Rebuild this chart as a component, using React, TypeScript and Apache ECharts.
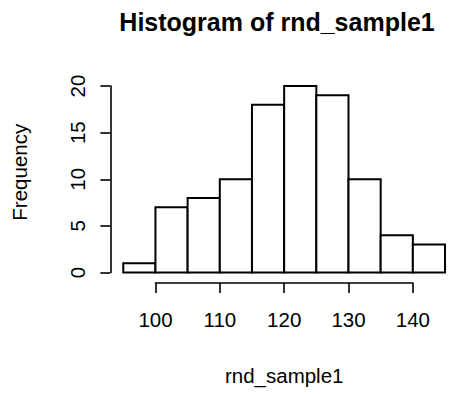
import React, { useEffect, useRef } from "react";
import * as echarts from "echarts";

const title = "Histogram of rnd_sample1";
const xLabel = "rnd_sample1";
const yLabel = "Frequency";
const binEdges = [95, 100, 105, 110, 115, 120, 125, 130, 135, 140, 145];
const counts = [1, 7, 8, 10, 18, 20, 19, 10, 4, 3];
const xTicks = [100, 110, 120, 130, 140];
const yTicks = [0, 5, 10, 15, 20];

const FONT = "Liberation Sans, Arial, Helvetica, sans-serif";

export default function App() {
  const ref = useRef<HTMLDivElement>(null);
  useEffect(() => {
    if (!ref.current) return;
    const chart = echarts.init(ref.current, null, { renderer: "svg" });
    const data = counts.map((c, i) => [binEdges[i], binEdges[i + 1], c]);
    const xMin = xTicks[0];
    const xMax = xTicks[xTicks.length - 1];
    const yMax = yTicks[yTicks.length - 1];
    const pad = (binEdges[binEdges.length - 1] - binEdges[0]) * 0.04;
    chart.setOption({
      animation: false,
      backgroundColor: "#ffffff",
      textStyle: { fontFamily: FONT, color: "#000" },
      title: {
        text: title,
        left: 272,
        textAlign: "center",
        top: 4,
        textStyle: { fontFamily: FONT, fontSize: 25, fontWeight: "bold", color: "#000" },
      },
      grid: [
        { left: 110.4, width: 347.5, top: 86, height: 186.5, containLabel: false },
        { left: 155.5, width: 257.4, top: 273, height: 10, containLabel: false },
      ],
      xAxis: [
        {
          gridIndex: 0,
          type: "value",
          min: binEdges[0] - pad,
          max: binEdges[binEdges.length - 1] + pad,
          show: false,
        },
        {
          gridIndex: 1,
          type: "value",
          min: xMin,
          max: xMax,
          interval: 10,
          position: "bottom",
          axisLine: { show: true, lineStyle: { color: "#000", width: 1.6 } },
          axisTick: { show: true, inside: false, length: 10, lineStyle: { color: "#000", width: 1.6 } },
          axisLabel: { show: true, margin: 26, fontSize: 20.5, color: "#000", fontFamily: FONT },
          splitLine: { show: false },
          name: xLabel,
          nameLocation: "middle",
          nameGap: 82,
          nameTextStyle: { fontSize: 20.5, color: "#000", fontFamily: FONT },
        },
      ],
      yAxis: [
        {
          gridIndex: 0,
          type: "value",
          min: 0,
          max: yMax,
          interval: 5,
          position: "left",
          axisLine: { show: true, lineStyle: { color: "#000", width: 1.6 } },
          axisTick: { show: true, inside: false, length: 10, lineStyle: { color: "#000", width: 1.6 } },
          axisLabel: { show: true, rotate: 90, margin: 22, fontSize: 20.5, color: "#000", fontFamily: FONT },
          splitLine: { show: false },
          name: yLabel,
          nameLocation: "middle",
          nameRotate: 90,
          nameGap: 80,
          nameTextStyle: { fontSize: 20.5, color: "#000", fontFamily: FONT, padding: [0, 0, 0, 14] },
        },
        { gridIndex: 1, type: "value", show: false },
      ],
      series: [
        {
          type: "custom",
          xAxisIndex: 0,
          yAxisIndex: 0,
          data,
          encode: { x: [0, 1], y: 2 },
          clip: false,
          renderItem: (params: any, api: any) => {
            const p0 = api.coord([api.value(0), 0]);
            const p1 = api.coord([api.value(1), api.value(2)]);
            return {
              type: "rect",
              shape: { x: p0[0], y: p1[1], width: p1[0] - p0[0], height: p0[1] - p1[1] },
              style: { fill: "#ffffff", stroke: "#000000", lineWidth: 2 },
            };
          },
        },
      ],
    });
    return () => chart.dispose();
  }, []);
  return (
    <div
      ref={ref}
      style={{ position: "fixed", left: 0, top: 0, width: 459, height: 394, background: "#fff" }}
    />
  );
}
